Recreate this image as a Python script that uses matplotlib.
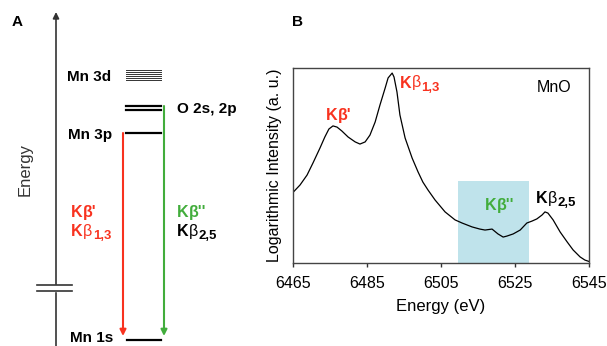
import numpy as np
import matplotlib
matplotlib.use("Agg")
import matplotlib.pyplot as plt

plt.rcParams["font.family"] = ["Liberation Sans", "DejaVu Sans"]

RED = "#f8321f"
GREEN = "#42ad3c"
SHADE = "#bfe3eb"

# ---- panel B data: MnO Kbeta emission (log intensity, axis fraction) ----
energy = [6465.0, 6466.9, 6468.8, 6470.4, 6472.3, 6473.6, 6474.7, 6475.8,
          6476.9, 6478.2, 6479.9, 6481.8, 6483.1, 6484.5, 6485.8, 6487.2,
          6488.5, 6489.9, 6490.7, 6491.8, 6492.3, 6493.1, 6493.9, 6495.3,
          6497.2, 6498.8, 6500.1, 6501.5, 6503.4, 6506.1, 6508.8, 6510.7,
          6513.4, 6515.5, 6516.9, 6518.8, 6520.4, 6521.8, 6522.8, 6524.5,
          6526.4, 6528.2, 6529.6, 6530.9, 6532.3, 6533.1, 6533.9, 6535.3,
          6537.2, 6539.1, 6540.7, 6542.6, 6543.9, 6545.0]
intensity = [0.362, 0.400, 0.451, 0.513, 0.590, 0.646, 0.687, 0.703,
             0.697, 0.677, 0.646, 0.621, 0.610, 0.621, 0.656, 0.723,
             0.810, 0.897, 0.949, 0.974, 0.954, 0.877, 0.759, 0.641,
             0.538, 0.467, 0.415, 0.374, 0.323, 0.262, 0.221, 0.205,
             0.185, 0.174, 0.169, 0.174, 0.149, 0.133, 0.138, 0.149,
             0.169, 0.205, 0.215, 0.226, 0.246, 0.262, 0.256, 0.221,
             0.159, 0.108, 0.067, 0.031, 0.015, 0.008]
x_ticks = [6465, 6485, 6505, 6525, 6545]
kb2_window = (6509.6, 6528.8)
kb2_window_top = 0.42

# ---- panel A: level diagram (pixel-like coordinates, y down) ----
level_names = ["Mn 3d", "O 2s, 2p", "Mn 3p", "Mn 1s"]
level_y = [75, 108, 133, 340]
mn3d_lines = [70, 72, 74, 76, 78, 80]
o2p_lines = [106, 110]


def kb_label(ax, x, y, tail, sub=None, color="black", size=11.5, ha="left"):
    # bold K, lighter beta (+ primes), bold subscript
    t = ax.text(x, y, "K", color=color, fontsize=size, fontweight="bold",
                ha=ha, va="baseline")
    b = ax.annotate("β" + tail, xy=(1, 0), xycoords=t, xytext=(0.3, 0),
                    textcoords="offset points", color=color, fontsize=size,
                    fontweight="bold" if tail else "normal",
                    ha="left", va="bottom")
    if sub:
        ax.annotate(sub, xy=(1, 0), xycoords=b, xytext=(0.5, -2.5),
                    textcoords="offset points", color=color,
                    fontsize=size * 0.82, fontweight="bold",
                    ha="left", va="bottom")
    return t


fig = plt.figure(figsize=(6.07, 3.46), dpi=100)

# panel A
axa = fig.add_axes([0, 0, 243 / 607, 1])
axa.set_xlim(0, 243)
axa.set_ylim(346, 0)
axa.axis("off")

axa.annotate("", xy=(56, 12), xytext=(56, 346),
             arrowprops=dict(arrowstyle="-|>", color="#333333", lw=1.2,
                             mutation_scale=9, shrinkA=0, shrinkB=0))
axa.fill_between([40, 72], 285, 291, color="white", zorder=3)
axa.plot([37, 72], [285, 285], color="#333333", lw=1.2, zorder=4)
axa.plot([37, 72], [291, 291], color="#333333", lw=1.2, zorder=4)
axa.text(25, 170, "Energy", rotation=90, ha="center", va="center",
         fontsize=12, color="#333333")
axa.text(12, 22, "A", fontsize=11, fontweight="bold", ha="left", va="center")

for y in mn3d_lines:
    axa.plot([126, 161], [y, y], color="#333333", lw=0.7)
for y in o2p_lines:
    axa.plot([126, 161], [y, y], color="black", lw=1.6)
axa.plot([126, 161], [level_y[2], level_y[2]], color="black", lw=1.6)
axa.plot([127, 161], [level_y[3], level_y[3]], color="black", lw=1.6)

axa.text(111, level_y[0] + 2, level_names[0], ha="right", va="center",
         fontsize=11, fontweight="bold")
axa.text(177, level_y[1] + 1, level_names[1], ha="left", va="center",
         fontsize=11, fontweight="bold")
axa.text(112, level_y[2] + 2, level_names[2], ha="right", va="center",
         fontsize=11, fontweight="bold")
axa.text(113, level_y[3] - 2, level_names[3], ha="right", va="center",
         fontsize=11, fontweight="bold")

axa.annotate("", xy=(123, 336), xytext=(123, level_y[2]),
             arrowprops=dict(arrowstyle="-|>", color=RED, lw=1.5,
                             mutation_scale=9, shrinkA=0, shrinkB=0))
axa.annotate("", xy=(164, 336), xytext=(164, o2p_lines[0]),
             arrowprops=dict(arrowstyle="-|>", color=GREEN, lw=1.5,
                             mutation_scale=9, shrinkA=0, shrinkB=0))

kb_label(axa, 71, 217, "'", color=RED)
kb_label(axa, 71, 236, "", "1,3", color=RED)
kb_label(axa, 177, 217, "''", color=GREEN)
kb_label(axa, 177, 236, "", "2,5", color="black")

# panel B
axb = fig.add_axes([293 / 607, 83 / 346, 296 / 607, 195 / 346])
axb.axvspan(kb2_window[0], kb2_window[1], ymin=0, ymax=kb2_window_top,
            color=SHADE, lw=0, zorder=0)
axb.plot(energy, intensity, color="black", lw=0.9)
axb.set_xlim(6465, 6545)
axb.set_ylim(0, 1)
axb.set_xticks(x_ticks)
axb.set_yticks([])
axb.tick_params(axis="x", direction="out", length=3, width=1,
                labelsize=11.5, pad=6, colors="#333333", labelcolor="black")
for sp in axb.spines.values():
    sp.set_color("#444444")
    sp.set_linewidth(1.0)
axb.set_xlabel("Energy (eV)", fontsize=12, labelpad=6)
axb.set_ylabel("Logarithmic Intensity (a. u.)", fontsize=11.5, labelpad=8)

kb_label(axb, 6474.0, 0.735, "'", color=RED)
kb_label(axb, 6493.8, 0.90, "", "1,3", color=RED)
axb.text(6531, 0.90, "MnO", fontsize=11.5, ha="left", va="center")
kb_label(axb, 6516.8, 0.27, "''", color=GREEN)
kb_label(axb, 6530.6, 0.31, "", "2,5", color="black")

fig.text(292 / 607, 1 - 22 / 346, "B", fontsize=11, fontweight="bold",
         ha="left", va="center")

fig.savefig("out.png", dpi=100)
